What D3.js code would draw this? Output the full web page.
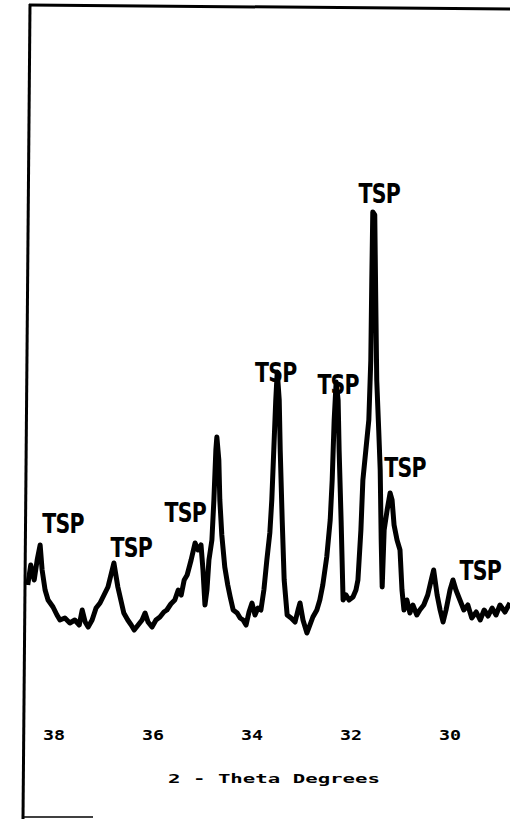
<!DOCTYPE html>
<html>
<head>
<meta charset="utf-8">
<script src="https://cdn.jsdelivr.net/npm/d3@7"></script>
<style>
  html, body { margin: 0; padding: 0; background: #fff; }
  #visualization { width: 510px; height: 819px; }
</style>
</head>
<body>
<div id="visualization"></div>
<script>
// XRD pattern - TSP peaks

// 2-theta (degrees) and intensity (arbitrary units)
const twoTheta = [
  38.53, 38.47, 38.40, 38.34, 38.28, 38.24, 38.18, 38.12, 38.02, 37.94,
  37.88, 37.78, 37.68, 37.58, 37.49, 37.43, 37.37, 37.31, 37.23, 37.15,
  37.07, 36.99, 36.91, 36.85, 36.79, 36.75, 36.71, 36.65, 36.59, 36.51,
  36.44, 36.38, 36.30, 36.22, 36.16, 36.10, 36.02, 35.94, 35.86, 35.78,
  35.72, 35.64, 35.56, 35.49, 35.43, 35.37, 35.31, 35.23, 35.15, 35.09,
  35.03, 34.99, 34.95, 34.91, 34.87, 34.81, 34.77, 34.73, 34.71, 34.67,
  34.65, 34.61, 34.55, 34.49, 34.44, 34.38, 34.30, 34.24, 34.18, 34.12,
  34.06, 34.00, 33.94, 33.88, 33.82, 33.76, 33.70, 33.64, 33.60, 33.56,
  33.52, 33.49, 33.45, 33.43, 33.39, 33.35, 33.29, 33.21, 33.13, 33.07,
  33.03, 32.97, 32.89, 32.83, 32.77, 32.69, 32.63, 32.57, 32.49, 32.42,
  32.38, 32.34, 32.30, 32.26, 32.24, 32.20, 32.16, 32.10, 32.04, 31.96,
  31.90, 31.86, 31.80, 31.76, 31.70, 31.64, 31.60, 31.58, 31.56, 31.52,
  31.50, 31.48, 31.44, 31.41, 31.39, 31.37, 31.33, 31.27, 31.21, 31.17,
  31.13, 31.07, 31.01, 30.97, 30.93, 30.87, 30.81, 30.75, 30.67, 30.61,
  30.53, 30.45, 30.37, 30.33, 30.26, 30.20, 30.14, 30.08, 30.00, 29.94,
  29.88, 29.80, 29.72, 29.64, 29.56, 29.47, 29.39, 29.31, 29.23, 29.15,
  29.07, 28.99, 28.89, 28.79
];
const intensity = [
  19, 23, 20, 24, 27, 22, 18, 16, 14.6, 13,
  12, 12.4, 11.4, 12, 11, 14, 11.6, 10.6, 12, 14.4,
  15.4, 17, 18.6, 21, 23.4, 21, 18.6, 16, 13.4, 12,
  11, 10, 11, 12, 13.4, 11.6, 10.6, 12, 12.6, 13.6,
  14, 15.2, 16, 18, 17, 20, 21, 24, 27.4, 26,
  27, 22, 15, 18, 24, 28, 36, 46, 48.6, 44,
  36, 29, 22.6, 19, 16.6, 14, 13.4, 12.4, 12, 11,
  13.6, 15.4, 13, 14.4, 14, 18, 24, 29.4, 36, 46,
  56, 61.6, 56, 46, 32, 20, 13, 12.4, 11.6, 14,
  15.4, 12, 9.4, 11, 12.6, 14, 16, 19, 24.6, 32,
  40, 52, 59.6, 56, 46, 32, 16, 17, 16, 16.6,
  18, 20, 30, 40, 46, 52, 64, 80, 93.6, 93,
  76, 60, 50, 42, 28, 18.6, 30, 34, 37.4, 36,
  31, 28, 26, 18, 14, 16, 13.4, 15, 13, 14,
  15, 17, 20.4, 22, 17, 14, 11.6, 14, 18, 20,
  18, 16, 14, 15, 12.4, 13.6, 12, 14, 12.8, 14.4,
  13, 15, 13.6, 15.4
];

// peak labels (position of each "TSP" tag)
const labelTheta = [37.82, 36.44, 35.35, 33.52, 32.26, 31.43, 30.91, 29.39];
const labelIntensity = [29.4, 24.6, 31.6, 59.6, 57.2, 95.4, 40.6, 20];
const labelText = 'TSP';

// axis ticks
const tickValues = [38, 36, 34, 32, 30];
const axisTitle = '2 - Theta Degrees';

const data = twoTheta.map((t, i) => ({ x: t, y: intensity[i] }));

const width = 510;
const height = 819;

const svg = d3.select('#visualization').append('svg')
    .attr('width', width)
    .attr('height', height);

// scales: 2-theta runs high to low, left to right
const xScale = d3.scaleLinear().domain([38, 30]).range([54, 450]);
const yScale = d3.scaleLinear().domain([0, 100]).range([680, 180]);

// frame (left and top edges only, like the old plot)
svg.append('line')
    .attr('x1', 30).attr('y1', 4)
    .attr('x2', 23).attr('y2', 819)
    .style('stroke', '#000')
    .style('stroke-width', 3);

svg.append('line')
    .attr('x1', 29).attr('y1', 5)
    .attr('x2', 510).attr('y2', 9)
    .style('stroke', '#000')
    .style('stroke-width', 3);

svg.append('line')
    .attr('x1', 22).attr('y1', 817)
    .attr('x2', 93).attr('y2', 817)
    .style('stroke', '#000')
    .style('stroke-width', 1.5);

// diffraction trace
const line = d3.line()
    .x(d => xScale(d.x))
    .y(d => yScale(d.y));

svg.append('path')
    .datum(data)
    .attr('d', line)
    .style('fill', 'none')
    .style('stroke', '#000')
    .style('stroke-width', 5)
    .style('stroke-linejoin', 'round');

// TSP labels, squeezed horizontally
svg.selectAll('.peak-label')
    .data(labelTheta)
    .enter()
    .append('text')
    .attr('class', 'peak-label')
    .attr('transform', (d, i) => `translate(${xScale(d)},${yScale(labelIntensity[i])}) scale(0.76,1)`)
    .attr('text-anchor', 'middle')
    .style('font-family', '"DejaVu Sans", sans-serif')
    .style('font-weight', 'bold')
    .style('font-size', '27px')
    .style('letter-spacing', '-1px')
    .style('fill', '#000')
    .text(labelText);

// tick labels
svg.selectAll('.tick-label')
    .data(tickValues)
    .enter()
    .append('text')
    .attr('class', 'tick-label')
    .attr('x', d => xScale(d))
    .attr('y', 740)
    .attr('text-anchor', 'middle')
    .attr('textLength', 22)
    .attr('lengthAdjust', 'spacingAndGlyphs')
    .style('font-family', '"DejaVu Sans Mono", monospace')
    .style('font-weight', 'bold')
    .style('font-size', '14px')
    .style('fill', '#000')
    .text(d => d);

// axis title
svg.append('text')
    .attr('x', 274)
    .attr('y', 783)
    .attr('text-anchor', 'middle')
    .attr('textLength', 212)
    .attr('lengthAdjust', 'spacingAndGlyphs')
    .style('font-family', '"DejaVu Sans Mono", monospace')
    .style('font-weight', 'bold')
    .style('font-size', '12px')
    .style('fill', '#000')
    .text(axisTitle);
</script>
</body>
</html>
